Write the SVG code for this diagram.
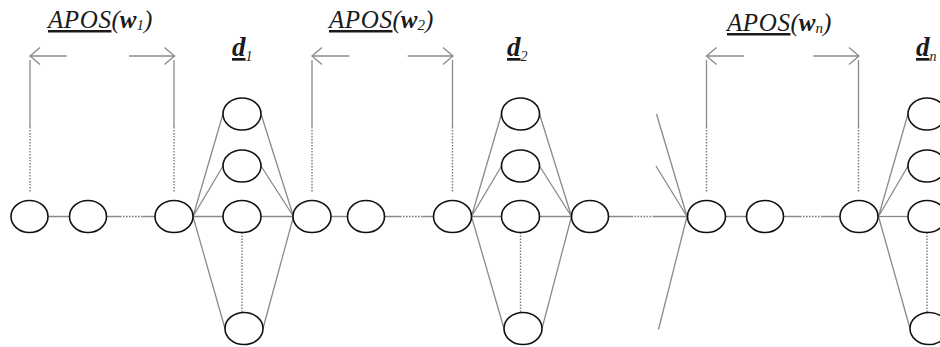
<svg xmlns="http://www.w3.org/2000/svg" width="940" height="347" viewBox="0 0 940 347">
<style>
.n{fill:#fff;stroke:#111;stroke-width:1.6}
.c{stroke:#8a8a8a;stroke-width:1.3;fill:none}
.d{stroke:#7a7a7a;stroke-width:1.4;fill:none;stroke-dasharray:1.6 1.4}
.lab{font-family:"Liberation Serif",serif;font-style:italic;font-size:25px;fill:#1a1a1a}
.dl{font-family:"Liberation Serif",serif;font-style:italic;font-weight:bold;font-size:27px;fill:#1a1a1a}
.sb{font-family:"Liberation Serif",serif;font-style:italic;font-size:14px;fill:#1a1a1a}
</style>
<defs>
<marker id="ah" markerUnits="userSpaceOnUse" markerWidth="14" markerHeight="20" viewBox="-12 -10 14 20" refX="0" refY="0" orient="auto">
<path d="M-10,-8.5 L0,0 L-10,8.5" fill="none" stroke="#8a8a8a" stroke-width="1.3"/>
</marker>
</defs>
<rect width="940" height="347" fill="#fff"/>
<g id="connectors">
<path class="c" d="M66.7,56 H30" marker-end="url(#ah)"/>
<path class="c" d="M129,56 H174.5" marker-end="url(#ah)"/>
<path class="c" d="M30,60 V127 M174,60 V127"/>
<path class="d" d="M30,127 V192 M174,127 V192"/>
<path class="c" d="M349.3,56 H312" marker-end="url(#ah)"/>
<path class="c" d="M407.7,56 H453" marker-end="url(#ah)"/>
<path class="c" d="M312,60 V127 M452.5,60 V127"/>
<path class="d" d="M312,127 V192 M452.5,127 V192"/>
<path class="c" d="M744,56 H706.5" marker-end="url(#ah)"/>
<path class="c" d="M813.3,56 H859" marker-end="url(#ah)"/>
<path class="c" d="M706.5,60 V127 M858.5,60 V127"/>
<path class="d" d="M706.5,127 V192 M858.5,127 V192"/>
<path class="c" d="M48.5,216.5 H69.5 M107,216.5 H120 M143,216.5 H155.5"/>
<path class="d" d="M120,216.5 H143"/>
<path class="c" d="M193,216.5 H223 M261,216.5 H293.5"/>
<path class="c" d="M193,216.5 L223,114 M193,216.5 L223,166 M193,216.5 L225,328.5"/>
<path class="c" d="M261,114 L293.5,216.5 M261,166 L293.5,216.5 M263,328.5 L293.5,216.5"/>
<path class="d" d="M242,232.5 V312.5"/>
<path class="c" d="M331,216.5 H347.5 M384.5,216.5 H400 M423,216.5 H433.5"/>
<path class="d" d="M400,216.5 H423"/>
<path class="c" d="M471.5,216.5 H501.5 M539.5,216.5 H571.5"/>
<path class="c" d="M471.5,216.5 L501.5,114 M471.5,216.5 L501.5,166 M471.5,216.5 L504,328.5"/>
<path class="c" d="M539.5,114 L571.5,216.5 M539.5,166 L571.5,216.5 M542,328.5 L571.5,216.5"/>
<path class="d" d="M520.5,232.5 V312.5"/>
<path class="c" d="M608.5,216.5 H631.5 M653.5,216.5 H687.5"/>
<path class="d" d="M631.5,216.5 H653.5"/>
<path class="c" d="M656.5,114 L687,216.5 M656,166 L687,216.5 M687,216.5 L658.5,329.5"/>
<path class="c" d="M725.5,216.5 H746 M783.5,216.5 H800 M821,216.5 H840"/>
<path class="d" d="M800,216.5 H821"/>
<path class="c" d="M878.5,216.5 H908"/>
<path class="c" d="M878.5,216.5 L908,114 M878.5,216.5 L908,166 M878.5,216.5 L910,328.5"/>
<path class="d" d="M927,232.5 V312.5"/>
</g>
<g id="row1">
<ellipse id="n1" class="n" cx="29.5" cy="216.5" rx="18.5" ry="16"/>
<ellipse id="n2" class="n" cx="88" cy="216.5" rx="18.5" ry="16"/>
<ellipse id="n3" class="n" cx="174" cy="216.5" rx="19" ry="16"/>
</g>
<g id="d1col">
<ellipse class="n" cx="242" cy="114" rx="19" ry="16"/>
<ellipse class="n" cx="242" cy="166" rx="19" ry="16"/>
<ellipse class="n" cx="242" cy="216.5" rx="19" ry="16"/>
<ellipse class="n" cx="244" cy="328.5" rx="19" ry="16"/>
</g>
<g id="row2">
<ellipse class="n" cx="312" cy="216.5" rx="19" ry="16"/>
<ellipse class="n" cx="366" cy="216.5" rx="18.5" ry="16"/>
<ellipse class="n" cx="452.5" cy="216.5" rx="19" ry="16"/>
</g>
<g id="d2col">
<ellipse class="n" cx="520.5" cy="114" rx="19" ry="16"/>
<ellipse class="n" cx="520.5" cy="166" rx="19" ry="16"/>
<ellipse class="n" cx="520.5" cy="216.5" rx="19" ry="16"/>
<ellipse class="n" cx="523" cy="328.5" rx="19" ry="16"/>
</g>
<g id="n590">
<ellipse class="n" cx="590" cy="216.5" rx="18.5" ry="16"/>
</g>
<g id="rown">
<ellipse class="n" cx="706.5" cy="216.5" rx="19" ry="16"/>
<ellipse class="n" cx="765" cy="216.5" rx="18.5" ry="16"/>
<ellipse class="n" cx="859" cy="216.5" rx="19" ry="16"/>
</g>
<g id="dncol">
<ellipse class="n" cx="927" cy="114" rx="19" ry="16"/>
<ellipse class="n" cx="927" cy="166" rx="19" ry="16"/>
<ellipse class="n" cx="927" cy="216.5" rx="19" ry="16"/>
<ellipse class="n" cx="929" cy="328.5" rx="19" ry="16"/>
</g>
<g id="labels">
<text class="lab" x="48" y="28"><tspan text-decoration="underline" letter-spacing="0.6">APOS</tspan>(<tspan font-weight="bold">w</tspan><tspan font-size="15" dy="2">1</tspan><tspan dy="-2">)</tspan></text>
<text class="lab" x="329" y="28"><tspan text-decoration="underline" letter-spacing="0.6">APOS</tspan>(<tspan font-weight="bold">w</tspan><tspan font-size="15" dy="2">2</tspan><tspan dy="-2">)</tspan></text>
<text class="lab" x="727" y="31"><tspan text-decoration="underline" letter-spacing="0.6">APOS</tspan>(<tspan font-weight="bold">w</tspan><tspan font-size="15" dy="2">n</tspan><tspan dy="-2">)</tspan></text>
<text class="dl" x="232" y="56"><tspan text-decoration="underline">d</tspan><tspan class="sb" font-weight="normal" dy="5">1</tspan></text>
<text class="dl" x="507" y="56"><tspan text-decoration="underline">d</tspan><tspan class="sb" font-weight="normal" dy="5">2</tspan></text>
<text class="dl" x="916" y="56"><tspan text-decoration="underline">d</tspan><tspan class="sb" font-weight="normal" dy="5">n</tspan></text>
</g>
</svg>
